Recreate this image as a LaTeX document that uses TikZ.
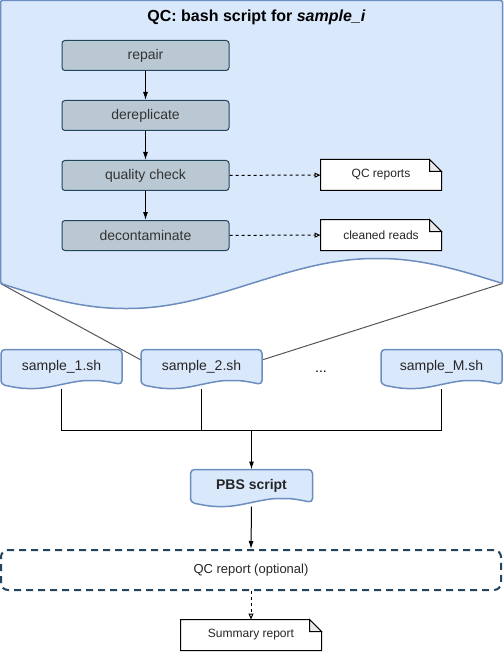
\documentclass[tikz,border=0pt]{standalone}
\usepackage{fontspec}
\setmainfont{Liberation Sans}
\usetikzlibrary{arrows.meta,calc}

\definecolor{docfill}{HTML}{DAE8FC}
\definecolor{docline}{HTML}{6C8EBF}
\definecolor{stepfill}{HTML}{BAC8D3}
\definecolor{stepline}{HTML}{23445D}
\definecolor{foldfill}{HTML}{EBEBEB}
\definecolor{linkgray}{HTML}{555555}

\pgfdeclarelayer{back}
\pgfdeclarelayer{mid}
\pgfsetlayers{back,mid,main}

% wavy document outline round a node: [options] name, wave height
\newcommand{\wavydoc}[3][]{%
  \draw[docline, fill=docfill, line width=1.5pt, #1]
    (#2.south west) -- (#2.north west) -- (#2.north east) -- (#2.south east)
    sin ($(#2.south east)!0.25!(#2.south west)+(0,-#3)$)
    cos (#2.south)
    sin ($(#2.south east)!0.75!(#2.south west)+(0,#3)$)
    cos (#2.south west) -- cycle;}

% note with folded corner round a node
\newcommand{\foldnote}[1]{%
  \draw[fill=white, line width=1pt] (#1.north west) -- ([xshift=-12pt]#1.north east)
    -- ([yshift=-12pt]#1.north east) -- (#1.south east) -- (#1.south west) -- cycle;
  \draw[fill=foldfill, line width=1pt] ([xshift=-12pt]#1.north east) -- ([xshift=-12pt,yshift=-12pt]#1.north east)
    -- ([yshift=-12pt]#1.north east) -- cycle;}

\begin{document}
\begin{tikzpicture}[x=1pt, y=-1pt, line width=1pt,
    font=\fontsize{14}{16}\selectfont,
    stepbox/.style={draw=stepline, fill=stepfill, rounded corners=3pt,
      minimum width=167pt, minimum height=30pt, text=black!80},
    notebox/.style={minimum height=30pt, font=\fontsize{12}{14}\selectfont, text=black!85},
    shbox/.style={minimum width=120pt, minimum height=34pt, text=black!85},
    flow/.style={-{Latex[length=8pt,width=5pt]}},
    output/.style={dash pattern=on 3pt off 3pt, -{Triangle[open,length=6pt,width=5pt,fill=white]}}]
  \useasboundingbox (0,0) rectangle (503,652);

  % bash script for one sample
  \node[minimum width=501pt, minimum height=282pt] (qc) at (251.5,142) {};
  \node (title) at (256.5,17) {\fontsize{16}{18}\selectfont\bfseries QC: bash script for \textit{sample\_i}};
  \node[stepbox] (repair) at (145.5,55.5) {repair};
  \node[stepbox] (derep) at (145.5,115.5) {dereplicate};
  \node[stepbox] (check) at (145.5,175.5) {quality check};
  \node[stepbox] (decont) at (145.5,235.5) {decontaminate};
  \node[notebox, minimum width=120pt] (reports) at (381,175) {QC reports};
  \node[notebox, minimum width=120pt] (cleaned) at (381,235) {cleaned reads};

  \draw[flow] (repair) -- (derep);
  \draw[flow] (derep) -- (check);
  \draw[flow] (check) -- (decont);
  \draw[output] (check) -- (reports);
  \draw[output] (decont) -- (cleaned);

  % one script per sample
  \node[shbox] (s1) at (61.5,367) {sample\_1.sh};
  \node[shbox] (s2) at (201.5,367) {sample\_2.sh};
  \node (dots) at (321,372) {...};
  \node[shbox] (sM) at (441.5,367) {sample\_M.sh};
  \node[shbox, minimum width=121pt, minimum height=32pt] (pbs) at (251.5,486) {\bfseries PBS script};
  \coordinate (join) at (251.5,430);

  \draw[shorten <=4pt, shorten >=4pt] (s1.south) |- (sM.south |- join) -- (sM.south);
  \draw[shorten <=4pt] (s2.south) -- (s2.south |- join);
  \draw[flow] (join) -- (pbs.north);

  % report step
  \node[draw=stepline, line width=2pt, dash pattern=on 7pt off 5pt, rounded corners=7pt,
    minimum width=500pt, minimum height=40pt, font=\fontsize{13}{15}\selectfont, text=black!85]
    (optional) at (251,570) {QC report (optional)};
  \node[notebox, minimum width=140pt] (summary) at (251,635) {Summary report};

  \draw[flow] (pbs.south) ++(0,4) -- (optional.north);
  \draw[output] (optional.south) -- (summary.north);

  \begin{pgfonlayer}{back}
    \draw[linkgray, line width=1pt] (qc.south west) -- ($(s2.north west)!0.3!(s2.south west)$);
    \draw[linkgray, line width=1pt] (qc.south east) -- ($(s2.north east)!0.3!(s2.south east)$);
    \wavydoc[rounded corners=2pt]{qc}{25}
  \end{pgfonlayer}
  \begin{pgfonlayer}{mid}
    \foldnote{reports}
    \foldnote{cleaned}
    \foldnote{summary}
    \wavydoc[rounded corners=4pt]{s1}{4}
    \wavydoc[rounded corners=4pt]{s2}{4}
    \wavydoc[rounded corners=4pt]{sM}{4}
    \wavydoc[rounded corners=4pt]{pbs}{4}
  \end{pgfonlayer}
\end{tikzpicture}
\end{document}
